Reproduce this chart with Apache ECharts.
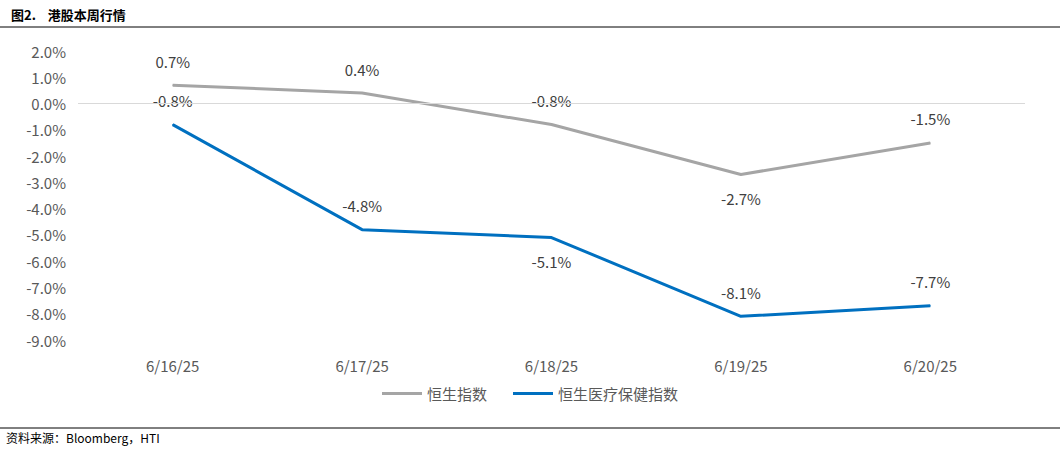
<!DOCTYPE html>
<html>
<head>
<meta charset="utf-8">
<script src="https://cdn.jsdelivr.net/npm/echarts@6/dist/echarts.min.js"></script>
<style>
  html, body { margin: 0; padding: 0; background: #fff; }
  #chart { width: 1060px; height: 452px; }
</style>
</head>
<body>
<div id="chart"></div>
<script>
var dates = ['6/16/25', '6/17/25', '6/18/25', '6/19/25', '6/20/25'];
var hsi = [0.7, 0.4, -0.8, -2.7, -1.5];
var hsHealth = [-0.8, -4.8, -5.1, -8.1, -7.7];
var hsiLabelPos = ['top', 'top', 'top', 'bottom', 'top'];
var healthLabelPos = ['top', 'top', 'bottom', 'top', 'top'];

var font = '"Noto Sans CJK SC", "Noto Sans", sans-serif';
var gray = '#a5a5a5';
var blue = '#0070c0';

function pct(v) { return v.toFixed(1) + '%'; }

var chart = echarts.init(document.getElementById('chart'), null, { renderer: 'svg' });
chart.setOption({
  animation: false,
  textStyle: { fontFamily: font },
  title: {
    text: '图2.    港股本周行情',
    left: 6, top: 3,
    textStyle: { fontSize: 13, fontWeight: 'bold', color: '#000', fontFamily: font }
  },
  graphic: [
    { type: 'line', shape: { x1: 0, y1: 27, x2: 1060, y2: 27 }, style: { stroke: '#000', lineWidth: 1 } },
    { type: 'line', shape: { x1: 0, y1: 428, x2: 1060, y2: 428 }, style: { stroke: '#000', lineWidth: 1 } },
    { type: 'text', left: 6, top: 431, style: { text: '资料来源：Bloomberg，HTI', fontSize: 12, fill: '#000', fontFamily: font } }
  ],
  legend: {
    data: ['恒生指数', '恒生医疗保健指数'],
    bottom: 46, left: 'center',
    itemWidth: 40, itemHeight: 3, itemGap: 26,
    icon: 'rect',
    textStyle: { fontSize: 15, color: '#595959', fontFamily: font }
  },
  grid: { left: 78, right: 35, top: 51, bottom: 112 },
  xAxis: {
    type: 'category',
    data: dates,
    axisLine: { show: false },
    axisTick: { show: false },
    axisLabel: { color: '#595959', fontSize: 15, margin: 18 }
  },
  yAxis: {
    type: 'value',
    min: -9, max: 2, interval: 1,
    axisLine: { show: false },
    axisTick: { show: false },
    splitLine: { show: false },
    axisLabel: { color: '#595959', fontSize: 15, formatter: pct, margin: 12 }
  },
  series: [{
    name: '恒生指数',
    type: 'line',
    data: hsi.map(function(v, i) { return { value: v, label: { position: hsiLabelPos[i] } }; }),
    symbol: 'circle', symbolSize: 1, showSymbol: true,
    lineStyle: { color: gray, width: 3 },
    itemStyle: { color: gray },
    label: { show: true, distance: 16, fontSize: 15, color: '#404040', formatter: function(p) { return pct(p.value); } },
    markLine: {
      silent: true, symbol: 'none', label: { show: false },
      lineStyle: { color: '#d9d9d9', type: 'solid', width: 1 },
      data: [{ yAxis: 0 }]
    }
  }, {
    name: '恒生医疗保健指数',
    type: 'line',
    data: hsHealth.map(function(v, i) { return { value: v, label: { position: healthLabelPos[i] } }; }),
    symbol: 'circle', symbolSize: 1, showSymbol: true,
    lineStyle: { color: blue, width: 3 },
    itemStyle: { color: blue },
    label: { show: true, distance: 16, fontSize: 15, color: '#404040', formatter: function(p) { return pct(p.value); } }
  }]
});
</script>
</body>
</html>
